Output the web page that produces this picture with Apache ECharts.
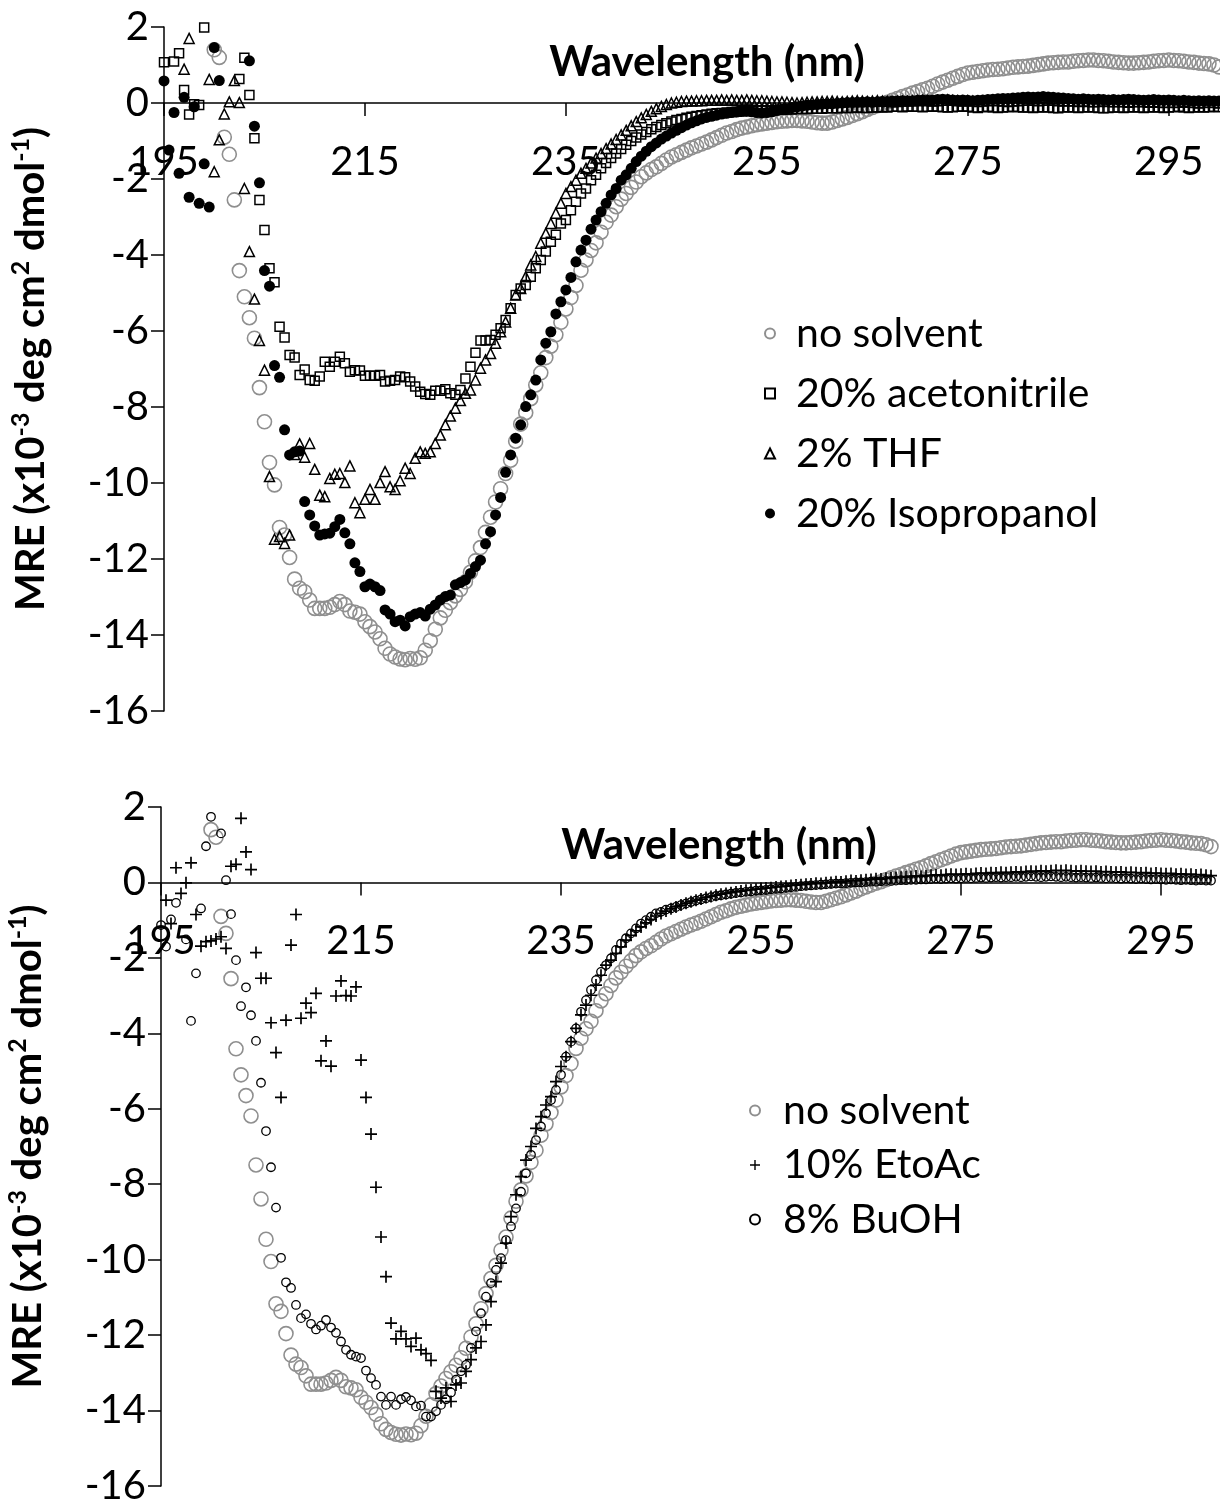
<!DOCTYPE html>
<html>
<head>
<meta charset="utf-8">
<script src="https://cdn.jsdelivr.net/npm/echarts@6/dist/echarts.min.js"></script>
<style>
  html, body { margin: 0; padding: 0; background: #fff; }
  #chart { width: 1220px; height: 1508px; }
</style>
</head>
<body>
<div id="chart"></div>
<script>
// CD spectra: mean residue ellipticity vs wavelength, sampled every 0.5 nm from 195 nm.
const WL_START = 195;
const WL_STEP = 0.5;

// x-axis tick labels (nm)
const xTickValues = [195, 215, 235, 255, 275, 295];

// MRE (x10^-3 deg cm2 dmol-1); one row = 5 nm (10 readings), null = no reading shown
const noSolvent = [
  null,null,null,null,null,null,null,null,null,null,
  1.4,1.2,-0.9,-1.35,-2.55,-4.41,-5.1,-5.65,-6.19,-7.49,
  -8.39,-9.46,-10.05,-11.17,-11.37,-11.96,-12.53,-12.77,-12.86,-13.08,
  -13.3,-13.3,-13.3,-13.27,-13.2,-13.12,-13.2,-13.37,-13.4,-13.45,
  -13.65,-13.78,-13.92,-14.1,-14.35,-14.5,-14.58,-14.63,-14.65,-14.62,
  -14.64,-14.6,-14.4,-14.15,-13.85,-13.55,-13.35,-13.15,-12.97,-12.8,
  -12.6,-12.35,-12.05,-11.7,-11.3,-10.9,-10.5,-10.15,-9.75,-9.4,
  -8.9,-8.45,-8.15,-7.78,-7.42,-7.1,-6.7,-6.4,-6.1,-5.77,
  -5.42,-5.12,-4.8,-4.4,-4.13,-3.88,-3.68,-3.4,-3.14,-2.95,
  -2.73,-2.53,-2.38,-2.22,-2.08,-1.94,-1.84,-1.75,-1.68,-1.59,
  -1.5,-1.42,-1.36,-1.3,-1.24,-1.18,-1.13,-1.08,-1.03,-0.97,
  -0.91,-0.85,-0.79,-0.75,-0.7,-0.66,-0.63,-0.6,-0.57,-0.55,
  -0.53,-0.51,-0.49,-0.48,-0.47,-0.46,-0.46,-0.47,-0.48,-0.5,
  -0.52,-0.53,-0.53,-0.5,-0.46,-0.42,-0.38,-0.33,-0.28,-0.23,
  -0.17,-0.12,-0.07,-0.02,0.02,0.07,0.12,0.17,0.21,0.26,
  0.3,0.35,0.39,0.44,0.5,0.55,0.6,0.65,0.7,0.75,
  0.79,0.81,0.83,0.85,0.87,0.88,0.89,0.9,0.92,0.94,
  0.95,0.96,0.97,0.99,1.01,1.03,1.05,1.06,1.07,1.08,
  1.08,1.1,1.11,1.12,1.13,1.13,1.12,1.11,1.1,1.08,
  1.07,1.06,1.05,1.05,1.06,1.07,1.08,1.1,1.11,1.12,
  1.13,1.12,1.11,1.1,1.08,1.07,1.05,1.04,1.03,1.0,
  0.95
];

const acetonitrile20 = [
  1.07,null,1.09,1.31,0.34,-0.3,-0.03,-0.05,1.99,null,
  null,null,null,null,null,0.63,1.19,0.21,-0.93,-2.55,
  -3.34,-4.35,-4.72,-5.89,-6.17,-6.63,-6.7,-7.16,-7.01,-7.29,
  -7.31,-7.2,-6.81,-6.94,-6.81,-6.68,-6.85,-7.07,-7.03,-7.04,
  -7.18,-7.18,-7.18,-7.16,-7.33,-7.31,-7.29,-7.2,-7.22,-7.33,
  -7.46,-7.6,-7.66,-7.68,-7.57,-7.57,-7.53,-7.64,-7.68,-7.55,
  -7.25,-6.94,-6.57,-6.25,-6.25,-6.24,-6.1,-5.93,-5.71,-5.4,
  -5.05,-4.88,-4.79,-4.57,-4.35,-4.13,-3.91,-3.65,-3.47,-3.17,
  -3.08,-2.82,-2.6,-2.38,-2.25,-2.03,-1.89,-1.72,-1.58,-1.45,
  -1.33,-1.21,-1.1,-1.0,-0.91,-0.83,-0.76,-0.69,-0.63,-0.58,
  -0.53,-0.49,-0.45,-0.42,-0.39,-0.36,-0.34,-0.32,-0.3,-0.28,
  -0.27,-0.26,-0.25,-0.24,-0.23,-0.22,-0.22,-0.21,-0.2,-0.2,
  -0.19,-0.19,-0.18,-0.18,-0.17,-0.17,-0.16,-0.16,-0.16,-0.15,
  -0.15,-0.15,-0.14,-0.14,-0.14,-0.13,-0.13,-0.13,-0.12,-0.13,
  -0.13,-0.12,-0.12,-0.11,-0.12,-0.1,-0.1,-0.11,-0.09,-0.1,
  -0.1,-0.11,-0.1,-0.09,-0.1,-0.11,-0.12,-0.11,-0.1,-0.09,
  -0.1,-0.12,-0.13,-0.11,-0.1,-0.12,-0.13,-0.12,-0.11,-0.1,
  -0.11,-0.12,-0.12,-0.13,-0.12,-0.11,-0.12,-0.13,-0.14,-0.12,
  -0.11,-0.12,-0.13,-0.12,-0.11,-0.12,-0.13,-0.14,-0.13,-0.12,
  -0.12,-0.13,-0.12,-0.11,-0.12,-0.13,-0.12,-0.11,-0.12,-0.13,
  -0.12,-0.11,-0.1,-0.12,-0.13,-0.12,-0.11,-0.12,-0.11,-0.1,
  -0.11
];

const thf2 = [
  null,null,null,null,0.89,1.7,null,null,null,0.62,
  -1.81,-0.97,-0.29,0.03,0.59,0.01,-2.25,-3.91,-5.16,-6.25,
  -7.03,-9.83,-11.48,-11.41,-11.59,-11.37,-9.25,-8.97,-9.32,-8.96,
  -9.64,-10.32,-10.36,-9.88,-9.77,-9.75,-9.99,-9.55,-10.52,-10.78,
  -10.43,-10.17,-10.43,-9.99,-9.7,-10.1,-10.17,-9.94,-9.61,-9.75,
  -9.35,-9.18,-9.22,-9.18,-8.96,-8.74,-8.47,-8.24,-8.03,-7.83,
  -7.64,-7.55,-7.29,-6.98,-6.76,-6.59,-6.32,-6.02,-5.76,-5.4,
  -5.05,-4.88,-4.57,-4.26,-4.04,-3.69,-3.43,-3.17,-2.9,-2.64,
  -2.38,-2.2,-2.03,-1.85,-1.72,-1.58,-1.45,-1.33,-1.2,-1.08,
  -0.96,-0.84,-0.72,-0.6,-0.49,-0.39,-0.3,-0.22,-0.15,-0.09,
  -0.04,0.0,0.02,0.04,0.05,0.05,0.06,0.06,0.07,0.07,
  0.07,0.08,0.07,0.08,0.07,0.07,0.08,0.07,0.06,0.06,
  0.05,0.04,0.03,0.03,0.02,0.01,0.0,0.01,0.02,0.03,
  0.03,0.04,0.04,0.05,0.04,0.03,0.04,0.05,0.06,0.05,
  0.04,0.05,0.06,0.05,0.04,0.03,0.04,0.05,0.05,0.06,
  0.06,0.07,0.06,0.05,0.06,0.07,0.08,0.07,0.06,0.05,
  0.06,0.05,0.04,0.05,0.06,0.07,0.06,0.05,0.04,0.05,
  0.06,0.07,0.08,0.07,0.06,0.07,0.08,0.07,0.06,0.05,
  0.06,0.05,0.04,0.05,0.04,0.03,0.04,0.05,0.04,0.03,
  0.04,0.03,0.02,0.03,0.04,0.03,0.02,0.03,0.02,0.01,
  0.02,0.01,0.02,0.03,0.02,0.01,0.0,0.01,0.02,0.01,
  0.0
];

const isopropanol20 = [
  0.58,-1.24,-0.25,-1.85,0.15,-2.48,-0.1,-2.64,-1.6,-2.74,
  1.46,0.59,null,null,null,null,null,1.11,-0.61,-2.1,
  -4.41,-4.82,-6.91,-7.22,-8.6,-9.26,-9.18,-9.16,-10.49,-10.84,
  -11.13,-11.37,-11.34,-11.32,-11.15,-10.96,-11.31,-11.6,-12.1,-12.33,
  -12.73,-12.66,-12.73,-12.83,-13.34,-13.45,-13.65,-13.61,-13.76,-13.52,
  -13.45,-13.41,-13.5,-13.32,-13.21,-13.08,-12.99,-12.95,-12.68,-12.62,
  -12.55,-12.38,-12.2,-12.03,-11.6,-11.28,-10.84,-10.38,-9.72,-9.26,
  -8.82,-8.47,-7.99,-7.68,-7.29,-6.76,-6.32,-6.02,-5.55,-5.23,
  -4.92,-4.59,-4.18,-3.87,-3.61,-3.32,-3.08,-2.86,-2.64,-2.42,
  -2.25,-2.03,-1.89,-1.72,-1.54,-1.4,-1.27,-1.15,-1.05,-0.95,
  -0.87,-0.79,-0.72,-0.65,-0.58,-0.52,-0.47,-0.42,-0.38,-0.35,
  -0.32,-0.29,-0.27,-0.25,-0.24,-0.22,-0.21,-0.23,-0.25,-0.26,
  -0.25,-0.23,-0.2,-0.17,-0.15,-0.12,-0.1,-0.08,-0.06,-0.05,
  -0.04,-0.03,-0.02,-0.02,-0.01,0.0,0.01,0.01,0.02,0.02,
  0.03,0.02,0.03,0.04,0.04,0.05,0.05,0.06,0.05,0.06,
  0.07,0.08,0.07,0.08,0.09,0.1,0.09,0.08,0.07,0.08,
  0.07,0.06,0.07,0.08,0.09,0.1,0.11,0.12,0.12,0.13,
  0.14,0.15,0.16,0.15,0.16,0.17,0.16,0.15,0.14,0.13,
  0.12,0.11,0.1,0.11,0.1,0.09,0.1,0.09,0.08,0.09,
  0.08,0.09,0.1,0.09,0.08,0.07,0.08,0.09,0.08,0.07,
  0.08,0.07,0.06,0.07,0.06,0.05,0.06,0.05,0.06,0.05,
  0.05
];

const etoac10 = [
  null,-0.47,-1.09,0.39,-0.29,-0.01,0.52,-0.85,-1.69,-1.57,
  -1.55,-1.5,-1.44,-1.75,0.43,0.48,1.7,0.81,0.34,-1.86,
  -2.54,-2.54,-3.72,-4.51,-5.7,-3.65,-1.66,-0.85,-3.6,-3.2,
  -3.45,-2.94,-4.73,-4.2,-4.87,-3.01,-2.61,-3.0,-3.01,-2.77,
  -4.71,-5.7,-6.67,-8.08,-9.4,-10.45,-11.68,-12.1,-11.9,-12.1,
  -12.3,-12.08,-12.39,-12.49,-12.67,-13.49,-13.67,-13.4,-13.76,-13.32,
  -13.27,-12.96,-12.65,-12.34,-12.17,-11.73,-11.11,-10.58,-10.09,-9.56,
  -8.86,-8.28,-7.8,-7.36,-7.0,-6.52,-6.21,-5.9,-5.68,-5.28,
  -4.88,-4.62,-4.22,-3.87,-3.51,-3.25,-2.99,-2.72,-2.46,-2.19,
  -2.06,-1.88,-1.71,-1.53,-1.4,-1.28,-1.18,-1.07,-0.98,-0.89,
  -0.82,-0.76,-0.7,-0.65,-0.6,-0.55,-0.51,-0.47,-0.44,-0.4,
  -0.37,-0.34,-0.31,-0.29,-0.27,-0.25,-0.23,-0.21,-0.2,-0.18,
  -0.17,-0.15,-0.14,-0.12,-0.11,-0.1,-0.08,-0.07,-0.06,-0.05,
  -0.04,-0.02,-0.03,-0.01,0.0,0.02,0.01,0.03,0.05,0.04,
  0.06,0.07,0.08,0.1,0.09,0.11,0.12,0.13,0.14,0.15,
  0.16,0.17,0.16,0.18,0.19,0.2,0.19,0.21,0.22,0.21,
  0.22,0.23,0.22,0.24,0.25,0.24,0.26,0.25,0.27,0.26,
  0.27,0.28,0.27,0.29,0.3,0.29,0.31,0.3,0.31,0.32,
  0.31,0.32,0.31,0.3,0.31,0.3,0.29,0.3,0.28,0.29,
  0.28,0.27,0.28,0.26,0.27,0.26,0.25,0.26,0.24,0.25,
  0.24,0.23,0.24,0.22,0.23,0.21,0.22,0.2,0.21,0.19,
  0.18
];

const buoh8 = [
  -1.13,-1.7,-0.98,-0.54,null,-1.51,-3.67,-2.41,-0.69,0.96,
  1.74,null,1.3,0.06,-0.84,-2.06,-3.28,-2.78,-3.52,-4.2,
  -5.31,-6.59,-7.55,-8.62,-9.95,-10.6,-10.75,-11.2,-11.55,-11.45,
  -11.7,-11.85,-11.75,-11.6,-11.8,-11.94,-12.17,-12.39,-12.52,-12.57,
  -12.61,-12.94,-13.14,-13.32,-13.63,-13.85,-13.63,-13.85,-13.7,-13.64,
  -13.73,-13.89,-13.87,-14.16,-14.16,-14.02,-13.85,-13.7,-13.52,-13.18,
  -12.96,-12.79,-12.34,-11.9,-11.42,-10.98,-10.62,-10.27,-9.96,-9.48,
  -9.12,-8.64,-8.2,-7.71,-7.22,-6.83,-6.47,-6.12,-5.77,-5.5,
  -5.1,-4.62,-4.22,-3.87,-3.43,-3.12,-2.85,-2.59,-2.37,-2.19,
  -2.01,-1.79,-1.62,-1.48,-1.35,-1.22,-1.09,-1.0,-0.91,-0.82,
  -0.78,-0.72,-0.69,-0.65,-0.6,-0.56,-0.52,-0.48,-0.45,-0.42,
  -0.39,-0.36,-0.34,-0.32,-0.3,-0.28,-0.27,-0.25,-0.24,-0.22,
  -0.21,-0.2,-0.18,-0.17,-0.16,-0.14,-0.13,-0.12,-0.1,-0.09,
  -0.08,-0.07,-0.06,-0.05,-0.04,-0.03,-0.03,-0.02,-0.01,0.0,
  0.0,0.01,0.02,0.02,0.03,0.04,0.04,0.05,0.06,0.06,
  0.07,0.07,0.08,0.08,0.09,0.1,0.09,0.1,0.11,0.1,
  0.11,0.12,0.11,0.12,0.13,0.12,0.13,0.14,0.13,0.14,
  0.14,0.15,0.14,0.15,0.16,0.15,0.14,0.15,0.16,0.15,
  0.14,0.15,0.14,0.13,0.14,0.13,0.12,0.13,0.12,0.11,
  0.12,0.11,0.1,0.11,0.1,0.09,0.1,0.09,0.08,0.09,
  0.08,0.07,0.08,0.07,0.06,0.07,0.06,0.05,0.06,0.05,
  0.05
];

// pair each reading with its wavelength, skipping gaps
function toPoints(values) {
  const pts = [];
  values.forEach((v, i) => {
    if (v !== null) pts.push([WL_START + WL_STEP * i, v]);
  });
  return pts;
}

const FONT = 'Lato, "Open Sans", sans-serif';
const BLACK = '#000';
const GREY = '#8f8f8f';
const PLUS = 'path://M4.3,0H5.7V4.3H10V5.7H5.7V10H4.3V5.7H0V4.3H4.3Z';
const Y_MIN = -16, Y_MAX = 2;

const grids = [
  { left: 164, top: 27, width: 1055, height: 684, outerBoundsMode: 'none' },
  { left: 161, top: 807, width: 1050, height: 679, outerBoundsMode: 'none' }
];

const yName = '{t|MRE (x10}{s|-3}{t| deg cm}{s|2}{t| dmol}{s|-1}{t|)}';

// the wavelength axis runs along MRE = 0, so shift it up from the grid bottom
function makeXAxis(gridIndex) {
  const h = grids[gridIndex].height;
  return {
    type: 'value', gridIndex, min: 195, max: 300, position: 'bottom',
    offset: -h * (0 - Y_MIN) / (Y_MAX - Y_MIN),
    axisLine: { onZero: false, lineStyle: { color: BLACK, width: 1.5 } },
    axisTick: { show: true, length: 13, customValues: xTickValues, lineStyle: { color: BLACK, width: 1.5 } },
    axisLabel: { customValues: xTickValues, margin: 39, fontSize: 40, fontFamily: FONT, color: BLACK },
    splitLine: { show: false }
  };
}

function makeYAxis(gridIndex) {
  return {
    type: 'value', gridIndex, min: Y_MIN, max: Y_MAX, interval: 2,
    axisLine: { show: true, onZero: false, lineStyle: { color: BLACK, width: 1.5 } },
    axisTick: { show: true, length: 13, lineStyle: { color: BLACK, width: 1.5 } },
    axisLabel: { margin: 15, fontSize: 40, fontFamily: FONT, color: BLACK },
    splitLine: { show: false },
    name: yName, nameLocation: 'middle', nameRotate: 90, nameGap: 110,
    nameTextStyle: {
      rich: {
        t: { fontSize: 40, fontWeight: 'bold', fontFamily: FONT, color: BLACK, lineHeight: 46 },
        s: { fontSize: 25, fontWeight: 'bold', fontFamily: FONT, color: BLACK, lineHeight: 25, verticalAlign: 'top' }
      }
    }
  };
}

function scatter(name, values, axis, symbol, size, itemStyle) {
  return {
    type: 'scatter', name, data: toPoints(values),
    xAxisIndex: axis, yAxisIndex: axis,
    symbol, symbolSize: size, itemStyle: Object.assign({ opacity: 1 }, itemStyle),
    emphasis: { disabled: true }, silent: true, animation: false
  };
}

const hollowGrey = { color: 'rgba(0,0,0,0)', borderColor: GREY, borderWidth: 1.6 };
const hollowBlack = { color: 'rgba(0,0,0,0)', borderColor: BLACK, borderWidth: 1.5 };
const solidBlack = { color: BLACK, borderWidth: 0 };

const option = {
  backgroundColor: '#fff',
  animation: false,
  grid: grids,
  xAxis: [makeXAxis(0), makeXAxis(1)],
  yAxis: [makeYAxis(0), makeYAxis(1)],
  legend: [
    {
      orient: 'vertical', left: 759, top: 300, padding: 5, itemWidth: 10, itemHeight: 10, itemGap: 3,
      data: ['no solvent', '20% acetonitrile', '2% THF', '20% Isopropanol'],
      textStyle: { fontSize: 41, fontFamily: FONT, color: BLACK, lineHeight: 41, padding: [16, 0, 0, 16] },
      selectedMode: false
    },
    {
      orient: 'vertical', left: 744, top: 1079, padding: 5, itemWidth: 10, itemHeight: 10, itemGap: 1.5,
      data: ['no solvent', '10% EtoAc', '8% BuOH'],
      textStyle: { fontSize: 41, fontFamily: FONT, color: BLACK, lineHeight: 37, padding: [16, 0, 0, 18] },
      selectedMode: false
    }
  ],
  graphic: [
    { type: 'text', x: 707, y: 62, style: { text: 'Wavelength (nm)', font: 'bold 42px ' + FONT, fill: BLACK, align: 'center', verticalAlign: 'middle' } },
    { type: 'text', x: 719, y: 845, style: { text: 'Wavelength (nm)', font: 'bold 42px ' + FONT, fill: BLACK, align: 'center', verticalAlign: 'middle' } }
  ],
  series: [
    scatter('no solvent', noSolvent, 0, 'circle', 14, hollowGrey),
    scatter('20% acetonitrile', acetonitrile20, 0, 'rect', 9, hollowBlack),
    scatter('2% THF', thf2, 0, 'triangle', 10, hollowBlack),
    scatter('20% Isopropanol', isopropanol20, 0, 'circle', 11, solidBlack),
    scatter('no solvent', noSolvent, 1, 'circle', 14, hollowGrey),
    scatter('10% EtoAc', etoac10, 1, PLUS, 12, solidBlack),
    scatter('8% BuOH', buoh8, 1, 'circle', 8.5, { color: 'rgba(0,0,0,0)', borderColor: BLACK, borderWidth: 1.3 })
  ]
};

const chart = echarts.init(document.getElementById('chart'), null, { renderer: 'canvas' });
chart.setOption(option);
</script>
</body>
</html>
